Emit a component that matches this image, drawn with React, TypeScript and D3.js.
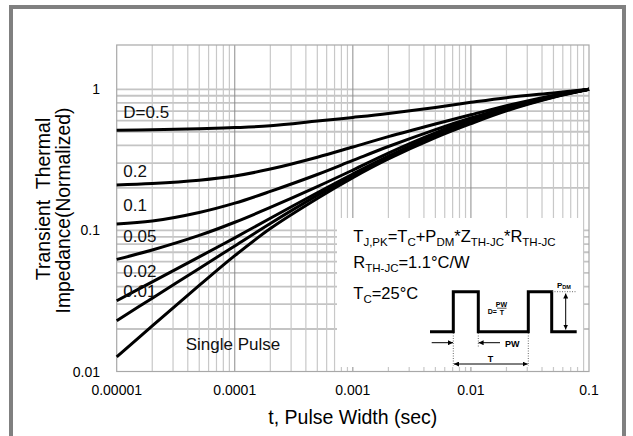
import React from "react";
import * as d3 from "d3";

// ---- Data ----
const pulseWidths = [1e-5, 2e-5, 5e-5, 1e-4, 2e-4, 5e-4, 1e-3, 2e-3, 5e-3, 1e-2, 2e-2, 5e-2, 1e-1];
const dutyLabels = ["D=0.5", "0.2", "0.1", "0.05", "0.02", "0.01", "Single Pulse"];
const zD05 = [0.512, 0.516, 0.525, 0.535, 0.551, 0.595, 0.632, 0.674, 0.744, 0.808, 0.872, 0.943, 1.0];
const zD02 = [0.21, 0.215, 0.227, 0.243, 0.272, 0.33, 0.39, 0.462, 0.568, 0.66, 0.765, 0.905, 1.0];
const zD01 = [0.111, 0.1165, 0.134, 0.156, 0.189, 0.249, 0.313, 0.393, 0.518, 0.626, 0.742, 0.896, 1.0];
const zD005 = [0.0623, 0.0726, 0.0921, 0.1142, 0.1455, 0.2043, 0.2677, 0.3532, 0.4912, 0.611, 0.732, 0.891, 1.0];
const zD002 = [0.0317, 0.0432, 0.0649, 0.0886, 0.122, 0.185, 0.251, 0.3357, 0.4755, 0.5976, 0.7258, 0.888, 1.0];
const zD001 = [0.0229, 0.0331, 0.0537, 0.0776, 0.112, 0.177, 0.2436, 0.3281, 0.4649, 0.584, 0.7143, 0.8818, 1.0];
const zSingle = [0.0127, 0.02106, 0.0407, 0.0662, 0.1031, 0.1684, 0.2365, 0.3208, 0.4544, 0.5709, 0.703, 0.8761, 1.0];
const seriesValues = [zD05, zD02, zD01, zD005, zD002, zD001, zSingle];

const xTickValues = [1e-5, 1e-4, 1e-3, 1e-2, 1e-1];
const xTickLabels = ["0.00001", "0.0001", "0.001", "0.01", "0.1"];
const yTickValues = [0.01, 0.1, 1];
const yTickLabels = ["0.01", "0.1", "1"];

// ---- Layout ----
const W = 633;
const H = 436;
const L = 116.7, R = 589, T = 45, B = 371.5;
const FONT = "'Liberation Sans', Arial, Helvetica, sans-serif";

// label anchor positions (layout, not data)
const labelPos = [
  [123.3, 118.3],
  [123.3, 177.3],
  [123.3, 211],
  [123.3, 241.7],
  [123.3, 276.7],
  [123.3, 296.7],
  [185.7, 350],
];

export default function App() {
  const x = d3.scaleLog().domain([1e-5, 1e-1]).range([L, R]);
  const y = d3.scaleLog().domain([0.01, 2.06]).range([B, T]);

  const minorX: number[] = [];
  const majorX: number[] = [];
  for (let k = -5; k <= -2; k++) {
    for (let m = 1; m <= 9; m++) {
      const v = m * Math.pow(10, k);
      if (m === 1) {
        if (k > -5) majorX.push(v);
      } else minorX.push(v);
    }
  }
  const gridY: number[] = [];
  for (let k = -2; k <= -1; k++) {
    for (let m = 1; m <= 9; m++) {
      const v = m * Math.pow(10, k);
      if (!(k === -2 && m === 1)) gridY.push(v);
    }
  }
  gridY.push(1);

  const line = d3
    .line<number>()
    .x((_, i) => x(pulseWidths[i]))
    .y((d) => y(d))
    .curve(d3.curveCatmullRom.alpha(0.5));

  // annotation box
  const bx = 337, by = 218, bw = 246, bh = 149;

  const subSize = 11.5;
  const mainSize = 16.5;

  return (
    <svg
      width={W}
      height={H}
      style={{ position: "absolute", left: 0, top: 0, background: "#fff" }}
      fontFamily={FONT}
    >
      <defs>
        <marker id="arr" viewBox="0 0 10 10" refX="10" refY="5" markerWidth="5" markerHeight="5" orient="auto-start-reverse">
          <path d="M0,0 L10,5 L0,10 z" fill="#000" />
        </marker>
      </defs>
      <rect x={0} y={0} width={W} height={H} fill="#fff" />
      {/* outer frame */}
      <path d={`M11,${H} V7 H624 V${H}`} fill="none" stroke="#808080" strokeWidth={4} />

      {/* grid */}
      {gridY.map((v, i) => (
        <line key={"gy" + i} x1={L} x2={R} y1={y(v)} y2={y(v)} stroke="#c4c4c4" strokeWidth={1.8} />
      ))}
      {minorX.map((v, i) => (
        <line key={"gx" + i} x1={x(v)} x2={x(v)} y1={T} y2={B} stroke="#c8c8c8" strokeWidth={1.2} />
      ))}
      {majorX.map((v, i) => (
        <line key={"gX" + i} x1={x(v)} x2={x(v)} y1={T} y2={B} stroke="#8c8c8c" strokeWidth={1} />
      ))}
      <rect x={L} y={T} width={R - L} height={B - T} fill="none" stroke="#a8a8a8" strokeWidth={1.2} />

      {/* white annotation box */}
      <rect x={bx} y={by} width={bw} height={bh} fill="#fff" />

      {/* curves */}
      {seriesValues.map((s, i) => (
        <path key={"c" + i} d={line(s) || ""} fill="none" stroke="#000" strokeWidth={3} />
      ))}

      {/* curve labels */}
      {dutyLabels.map((t, i) => (
        <text key={"l" + i} x={labelPos[i][0]} y={labelPos[i][1]} fontSize={17} fill="#111">
          {t}
        </text>
      ))}

      {/* ticks */}
      {xTickValues.map((v, i) => (
        <text key={"xt" + i} x={x(v)} y={395} fontSize={14} textAnchor="middle" fill="#000">
          {xTickLabels[i]}
        </text>
      ))}
      {yTickValues.map((v, i) => (
        <text key={"yt" + i} x={100} y={y(v)} dy="0.36em" fontSize={14} textAnchor="end" fill="#000">
          {yTickLabels[i]}
        </text>
      ))}

      {/* axis titles */}
      <text x={(L + R) / 2} y={424} fontSize={19.5} textAnchor="middle" fill="#000">
        t, Pulse Width (sec)
      </text>
      <text transform={`translate(50,199) rotate(-90)`} fontSize={19.5} textAnchor="middle" fill="#000" xmlSpace="preserve">
        {"Transient  Thermal"}
      </text>
      <text transform={`translate(70,210.5) rotate(-90)`} fontSize={19.3} textAnchor="middle" fill="#000">
        Impedance(Normalized)
      </text>

      {/* formula text */}
      <text x={353.3} y={242.3} fontSize={mainSize} fill="#000">
        T<tspan fontSize={subSize} dy={4}>J,PK</tspan>
        <tspan dy={-4}>=T</tspan>
        <tspan fontSize={subSize} dy={4}>C</tspan>
        <tspan dy={-4}>+P</tspan>
        <tspan fontSize={subSize} dy={4}>DM</tspan>
        <tspan dy={-4}>*Z</tspan>
        <tspan fontSize={subSize} dy={4}>TH-JC</tspan>
        <tspan dy={-4}>*R</tspan>
        <tspan fontSize={subSize} dy={4}>TH-JC</tspan>
      </text>
      <text x={353.3} y={268.3} fontSize={mainSize} fill="#000">
        R<tspan fontSize={subSize} dy={4}>TH-JC</tspan>
        <tspan dy={-4}>=1.1°C/W</tspan>
      </text>
      <text x={353.3} y={299.3} fontSize={mainSize} fill="#000">
        T<tspan fontSize={subSize} dy={4}>C</tspan>
        <tspan dy={-4}>=25°C</tspan>
      </text>

      {/* pulse diagram */}
      <path
        d="M430,331.7 H453.3 V291.7 H478.3 V331.7 H528.3 V291.7 H551.7 V331.7 H576.7"
        fill="none"
        stroke="#000"
        strokeWidth={3}
      />
      <g stroke="#444" strokeWidth={0.8} strokeDasharray="1,1.5">
        <line x1={552} x2={577} y1={291.7} y2={291.7} />
        <line x1={453.3} x2={453.3} y1={333} y2={366} />
        <line x1={478.3} x2={478.3} y1={333} y2={347} />
        <line x1={528.3} x2={528.3} y1={333} y2={366} />
      </g>
      <g stroke="#000" strokeWidth={1}>
        <line x1={565.7} x2={565.7} y1={293.5} y2={329.5} markerStart="url(#arr)" markerEnd="url(#arr)" />
        <line x1={431.7} x2={453} y1={342.7} y2={342.7} markerEnd="url(#arr)" />
        <line x1={500} x2={478.6} y1={342.7} y2={342.7} markerEnd="url(#arr)" />
        <line x1={454} x2={527.6} y1={364} y2={364} markerStart="url(#arr)" markerEnd="url(#arr)" />
      </g>
      <g fontWeight="bold" fill="#000">
        <text x={505} y={346.5} fontSize={9}>PW</text>
        <text x={490.5} y={362} fontSize={9} textAnchor="middle">T</text>
        <text x={487.8} y={314} fontSize={7}>D=</text>
        <text x={501.5} y={306.8} fontSize={7} textAnchor="middle">PW</text>
        <line x1={497} x2={506.5} y1={308.2} y2={308.2} stroke="#000" strokeWidth={0.7} />
        <text x={502} y={314.5} fontSize={7} textAnchor="middle">T</text>
        <text x={557} y={287.5} fontSize={8}>
          P<tspan fontSize={5.5} dy={1}>DM</tspan>
        </text>
      </g>
    </svg>
  );
}
